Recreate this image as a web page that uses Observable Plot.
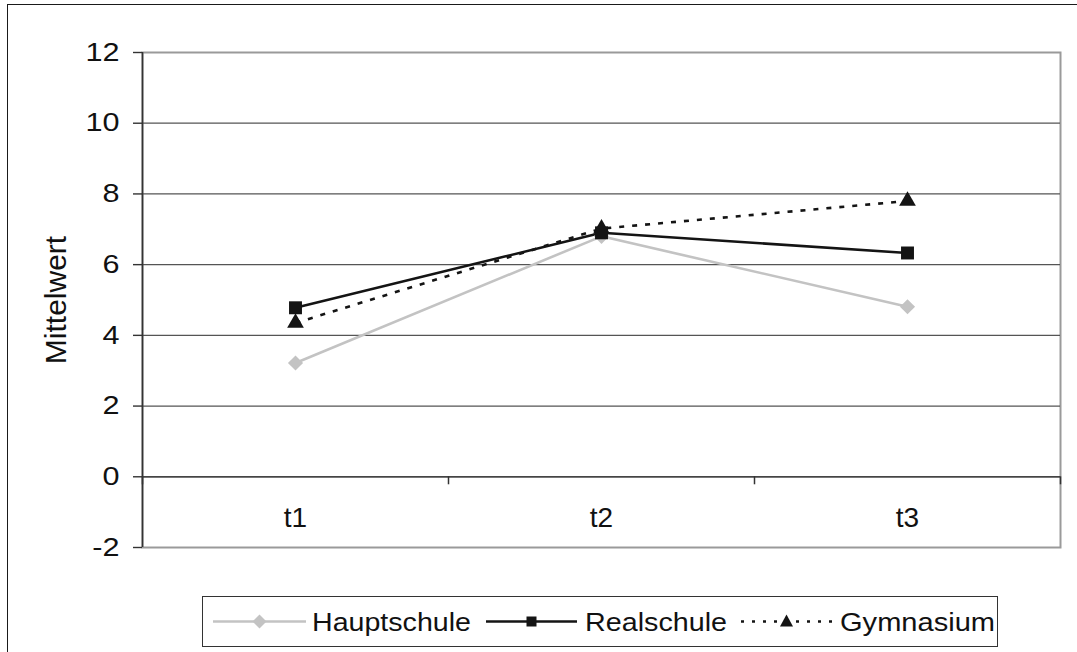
<!DOCTYPE html>
<html>
<head>
<meta charset="utf-8">
<script src="https://cdn.jsdelivr.net/npm/d3@7"></script>
<script src="https://cdn.jsdelivr.net/npm/@observablehq/plot@0.6"></script>
<style>
  html, body { margin: 0; padding: 0; background: #fff; overflow: hidden; }
  #wrap { position: relative; width: 1077px; height: 652px; overflow: hidden; font-family: "Liberation Sans", Arial, sans-serif; }
  #border { position: absolute; left: 7px; top: 4px; width: 1200px; height: 800px; border: 1.5px solid #1a1a1a; box-sizing: border-box; pointer-events: none; }
  #legend { position: absolute; left: 202px; top: 596px; width: 796px; height: 51px; border: 1.2px solid #333; box-sizing: border-box; background: #fff; }
  #legend svg { position: absolute; left: 0; top: 0; display: block; }
</style>
</head>
<body>
<div id="wrap">
  <div id="chart"></div>
  <div id="border"></div>
  <div id="legend"></div>
</div>
<script>
// ---- data ----
const categories = ["t1", "t2", "t3"];
const seriesNames = ["Hauptschule", "Realschule", "Gymnasium"];
const hauptschule = [3.22, 6.8, 4.81];
const realschule = [4.78, 6.9, 6.33];
const gymnasium = [4.35, 7.02, 7.8];
const yTicks = [-2, 0, 2, 4, 6, 8, 10, 12];
const yTitle = "Mittelwert";

const seriesValues = [hauptschule, realschule, gymnasium];
const rows = seriesNames.flatMap((s, k) =>
  categories.map((c, i) => ({series: s, cat: c, idx: i, value: seriesValues[k][i]}))
);
const styles = {
  Hauptschule: {stroke: "#c3c3c3", dash: null, legendDash: null, symbol: "diamond2", r: 6.8},
  Realschule: {stroke: "#141414", dash: null, legendDash: null, symbol: "square", r: 7.3},
  Gymnasium: {stroke: "#141414", dash: "5,8", legendDash: "3,8", symbol: "triangle", r: 6.2}
};
const xPos = d => d.idx + 0.5;
const tickStretch = 1.2;

const marks = [
  Plot.frame({stroke: "#9a9a9a", strokeWidth: 2}),
  Plot.ruleY(yTicks.filter(v => v !== 12 && v !== -2), {stroke: "#555", strokeWidth: 1.2}),
  Plot.ruleY([0], {stroke: "#444", strokeWidth: 1.4}),
  Plot.ruleX([0], {stroke: "#333", strokeWidth: 1.6}),
  // y tick marks (left of the axis) and x tick marks (below the zero line, between categories)
  Plot.ruleY(yTicks, {x1: 0, x2: 0, insetLeft: -9, stroke: "#333", strokeWidth: 1.4}),
  Plot.ruleX([0, 1, 2, 3], {y1: 0, y2: 0, insetBottom: -8, stroke: "#333", strokeWidth: 1.5}),
  // y tick labels
  Plot.text(yTicks, {x: 0, y: d => d, dx: -23, textAnchor: "end", text: d => String(d), fontSize: 25.5, fill: "#111"}),
  // category labels
  Plot.text(categories, {x: (d, i) => i + 0.5, y: 0, dy: 41, text: d => d, fontSize: 28, fill: "#111"}),
  // y title
  Plot.text([yTitle], {frameAnchor: "left", rotate: -90, dx: -86, textAnchor: "middle", text: d => d, fontSize: 30, fill: "#111"})
];
for (const s of seriesNames) {
  const st = styles[s];
  const data = rows.filter(d => d.series === s);
  marks.push(Plot.line(data, {x: xPos, y: "value", stroke: st.stroke, strokeWidth: 2.6, strokeLinecap: "butt", strokeDasharray: st.dash ?? undefined}));
}
for (const s of seriesNames) {
  const st = styles[s];
  const data = rows.filter(d => d.series === s);
  marks.push(Plot.dot(data, {x: xPos, y: "value", symbol: () => st.symbol, r: st.r, fill: st.stroke, stroke: "none"}));
}

const chart = Plot.plot({
  width: 1077,
  height: 652,
  marginLeft: 142,
  marginRight: 17,
  marginTop: 52,
  marginBottom: 105,
  style: {fontFamily: "'Liberation Sans', Arial, sans-serif", background: "transparent"},
  x: {domain: [0, 3], axis: null},
  y: {domain: [-2, 12], axis: null},
  symbol: {type: "identity"},
  marks
});
document.getElementById("chart").appendChild(chart);

// widen the y tick labels horizontally like the reference rendering
const tickStrings = yTicks.map(String);
chart.querySelectorAll("text").forEach(t => {
  if (!tickStrings.includes(t.textContent)) return;
  const ax = parseFloat(t.getAttribute("x")) || 0;
  const tr = t.getAttribute("transform") || "";
  t.setAttribute("transform", `${tr} translate(${ax},0) scale(${tickStretch},1) translate(${-ax},0)`);
});

// ---- legend ----
const legend = document.getElementById("legend");
const sampleLeft = [10, 283, 538];
const sampleWidth = [93, 91, 91];
const textLeft = [109, 382, 637];
const textWidth = [159, 142, 155];
let svg = `<svg width="796" height="51" font-family="'Liberation Sans', Arial, sans-serif">`;
seriesNames.forEach((s, k) => {
  const st = styles[s];
  const x0 = sampleLeft[k], w = sampleWidth[k];
  const c = x0 + w / 2;
  const cy = 24.5;
  svg += `<line x1="${x0}" x2="${x0 + w}" y1="${cy}" y2="${cy}" stroke="${st.stroke}" stroke-width="2.4" ${st.legendDash ? `stroke-dasharray="${st.legendDash}"` : ""}/>`;
  svg += st.symbol === "diamond2"
    ? `<path d="M${c},${cy - 7} L${c + 7},${cy} L${c},${cy + 7} L${c - 7},${cy} Z" fill="${st.stroke}"/>`
    : st.symbol === "square"
    ? `<rect x="${c - 5}" y="${cy - 5}" width="10" height="10" fill="${st.stroke}"/>`
    : `<path d="M${c},${cy - 7} L${c + 6.5},${cy + 5} L${c - 6.5},${cy + 5} Z" fill="${st.stroke}"/>`;
  svg += `<text x="${textLeft[k]}" y="34" font-size="26" fill="#111" textLength="${textWidth[k]}" lengthAdjust="spacingAndGlyphs">${s}</text>`;
});
svg += `</svg>`;
legend.innerHTML = svg;
</script>
</body>
</html>
